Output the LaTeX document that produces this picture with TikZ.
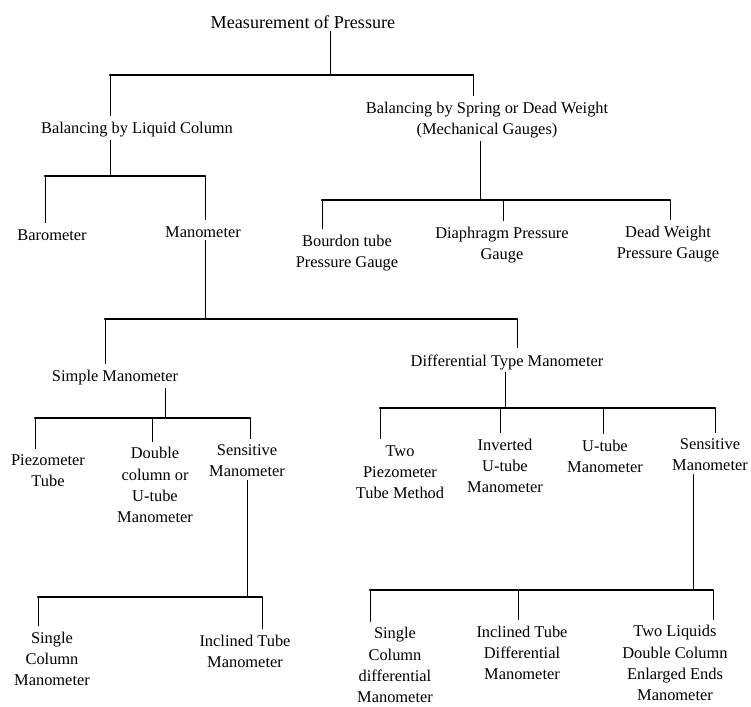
\documentclass[tikz,border=0pt]{standalone}
\usepackage{fontspec}
\setmainfont{Liberation Serif}
\usepackage{tikz}
\usetikzlibrary{positioning}
\tikzstyle{entry} = [align=center, inner sep=2pt, font=\fontsize{14}{18}\selectfont]
\tikzstyle{title} = [align=center, inner sep=2pt, font=\fontsize{15.5}{19}\selectfont]
\tikzstyle{connect} = [line width=0.8pt]
\tikzstyle{drop} = [connect, shorten >=3pt]
\tikzstyle{rail} = [line width=1.8pt, line cap=round]

\begin{document}
\begin{tikzpicture}[x=0.03cm, y=-0.03cm]
			\useasboundingbox (0,0) rectangle (751,707);
			% nodes
			\node (root) [title] at (303,22) {Measurement of Pressure};
			\node (liquid) [entry] at (137,130) {Balancing by Liquid Column};
			\node (spring) [entry] at (487,120) {Balancing by Spring or Dead Weight\\(Mechanical Gauges)};
			\node (baro) [entry] at (52,235) {Barometer};
			\node (mano) [entry] at (203,232) {Manometer};
			\node (bourdon) [entry] at (347,253) {Bourdon tube\\Pressure Gauge};
			\node (diaph) [entry] at (502,245) {Diaphragm Pressure\\Gauge};
			\node (dead) [entry] at (668,244) {Dead Weight\\Pressure Gauge};
			\node (simple) [entry] at (115,378) {Simple Manometer};
			\node (diff) [entry] at (507,362) {Differential Type Manometer};
			\node (piezo) [entry] at (48,471) {Piezometer\\Tube};
			\node (double) [entry] at (155,485) {Double\\column or\\U-tube\\Manometer};
			\node (sensA) [entry] at (247,461) {Sensitive\\Manometer};
			\node (twopiezo) [entry] at (400,472) {Two\\Piezometer\\Tube Method};
			\node (invert) [entry] at (505,466) {Inverted\\U-tube\\Manometer};
			\node (utube) [entry] at (605,456) {U-tube\\Manometer};
			\node (sensB) [entry] at (710,455) {Sensitive\\Manometer};
			\node (single) [entry] at (52,659) {Single\\Column\\Manometer};
			\node (incl) [entry] at (245,651) {Inclined Tube\\Manometer};
			\node (singlediff) [entry] at (395,665) {Single\\Column\\differential\\Manometer};
			\node (incldiff) [entry] at (522,653) {Inclined Tube\\Differential\\Manometer};
			\node (twoliq) [entry] at (675,663) {Two Liquids\\Double Column\\Enlarged Ends\\Manometer};

			% junctions
			\coordinate (j1) at (330,75);
			\coordinate (j1a) at (110,75);
			\coordinate (j1b) at (473,75);
			\coordinate (j2) at (110,176);
			\coordinate (j2a) at (45,176);
			\coordinate (j2b) at (205,176);
			\coordinate (j3) at (480,200);
			\coordinate (j3a) at (322,200);
			\coordinate (j3b) at (503,200);
			\coordinate (j3c) at (670,200);
			\coordinate (j4) at (205,319);
			\coordinate (j4a) at (105,319);
			\coordinate (j4b) at (517,319);
			\coordinate (j5) at (165,418);
			\coordinate (j5a) at (35,418);
			\coordinate (j5b) at (152,418);
			\coordinate (j5c) at (250,418);
			\coordinate (j6) at (247,597);
			\coordinate (j6a) at (38,597);
			\coordinate (j6b) at (262,597);
			\coordinate (j7) at (505,408);
			\coordinate (j7a) at (380,408);
			\coordinate (j7b) at (500,408);
			\coordinate (j7c) at (603,408);
			\coordinate (j7d) at (715,408);
			\coordinate (j8) at (693,590);
			\coordinate (j8a) at (370,590);
			\coordinate (j8b) at (518,590);
			\coordinate (j8c) at (713,590);

			% measurement of pressure
			\draw [connect] (root.south -| j1) -- (j1);
			\draw [rail] (j1a) -- (j1b);
			\draw [drop] (j1a) -- (j1a |- liquid.north);
			\draw [drop] (j1b) -- (j1b |- spring.north);
			% liquid column
			\draw [connect] (liquid.south -| j2) -- (j2);
			\draw [rail] (j2a) -- (j2b);
			\draw [drop] (j2a) -- (j2a |- baro.north);
			\draw [drop] (j2b) -- (j2b |- mano.north);
			% mechanical gauges
			\draw [connect] (spring.south -| j3) -- (j3);
			\draw [rail] (j3a) -- (j3c);
			\draw [drop] (j3a) -- (j3a |- bourdon.north);
			\draw [drop] (j3b) -- (j3b |- diaph.north);
			\draw [drop] (j3c) -- (j3c |- dead.north);
			% manometer
			\draw [connect] (mano.south -| j4) -- (j4);
			\draw [rail] (j4a) -- (j4b);
			\draw [drop] (j4a) -- (j4a |- simple.north);
			\draw [drop] (j4b) -- (j4b |- diff.north);
			% simple manometer
			\draw [connect] (simple.south -| j5) -- (j5);
			\draw [rail] (j5a) -- (j5c);
			\draw [drop] (j5a) -- (j5a |- piezo.north);
			\draw [drop] (j5b) -- (j5b |- double.north);
			\draw [drop] (j5c) -- (j5c |- sensA.north);
			% sensitive manometer
			\draw [connect] (sensA.south -| j6) -- (j6);
			\draw [rail] (j6a) -- (j6b);
			\draw [drop] (j6a) -- (j6a |- single.north);
			\draw [drop] (j6b) -- (j6b |- incl.north);
			% differential manometer
			\draw [connect] (diff.south -| j7) -- (j7);
			\draw [rail] (j7a) -- (j7d);
			\draw [drop] (j7a) -- (j7a |- twopiezo.north);
			\draw [drop] (j7b) -- (j7b |- invert.north);
			\draw [drop] (j7c) -- (j7c |- utube.north);
			\draw [drop] (j7d) -- (j7d |- sensB.north);
			% sensitive differential
			\draw [connect] (sensB.south -| j8) -- (j8);
			\draw [rail] (j8a) -- (j8c);
			\draw [drop] (j8a) -- (j8a |- singlediff.north);
			\draw [drop] (j8b) -- (j8b |- incldiff.north);
			\draw [drop] (j8c) -- (j8c |- twoliq.north);
\end{tikzpicture}
\end{document}
